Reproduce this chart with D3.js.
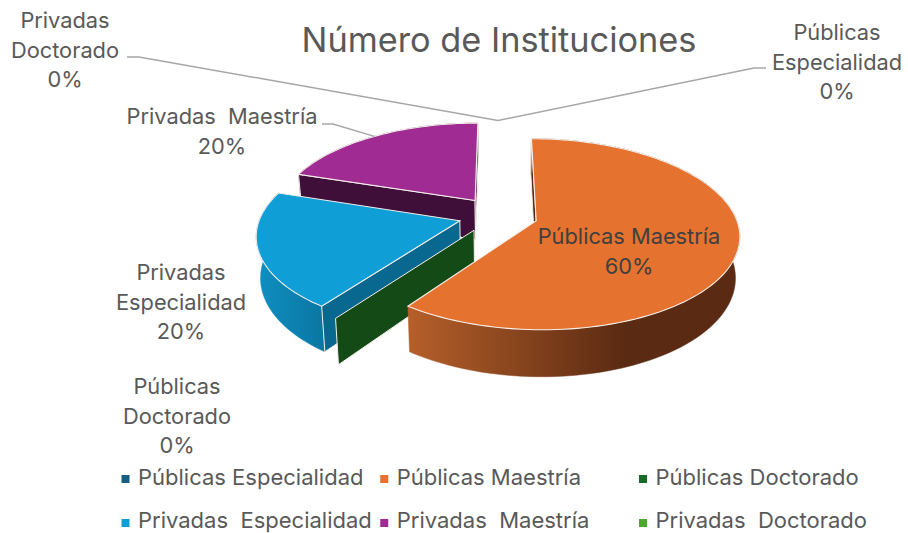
<!DOCTYPE html>
<html><head><meta charset="utf-8">
<script src="https://cdn.jsdelivr.net/npm/d3@7"></script>
<style>html,body{margin:0;background:#fff}svg{display:block}text{font-family:Inter,"Noto Sans",sans-serif}</style>
</head><body><div id="c"></div>
<script>
const title = "Número de Instituciones";
const categories = ["Públicas Especialidad","Públicas Maestría","Públicas Doctorado","Privadas  Especialidad","Privadas  Maestría","Privadas  Doctorado"];
const values = [0,60,0,20,20,0];
const colors = ["#156082","#e6722f","#196b24","#0f9ed5","#a02b93","#4ea72e"];
const edgeColors = ["#0d4a66","#5a2a12","#134a16","#08688f","#3f0f3a","#2f6a1c"];
const sideStart = ["#0d4a66","#b65f2a","#134a16","#0f8fc2","#3f0f3a","#2f6a1c"];
const sideEnd = ["#0d4a66","#5a2a12","#134a16","#0a76a2","#3f0f3a","#2f6a1c"];
const labelLines = [["Públicas","Especialidad"],["Públicas Maestría"],["Públicas","Doctorado"],["Privadas","Especialidad"],["Privadas  Maestría"],["Privadas","Doctorado"]];

const W=908,H=533;
const svg=d3.select("#c").append("svg").attr("width",W).attr("height",H);
const defs=svg.append("defs");

const P={cx:498,cy:215,rx:199,ry:92,k:0.14,depth:40,shrink:0.982,explode:0.2};
const project=(X,Y)=>{const w=1+P.k*Y;return [P.cx+P.rx*X/w,P.cy-P.ry*Y/w,w];};
const bottom=(X,Y)=>{const [x,y,w]=project(X,Y);return [P.cx+(x-P.cx)*P.shrink,y+P.depth/w];};

const pie=d3.pie().sort(null).value(d=>d.v).startAngle(0).endAngle(2*Math.PI);
const arcs=pie(categories.map((c,i)=>({c,v:values[i],i})));
const total=d3.sum(values);
const line=d3.line().x(d=>d[0]).y(d=>d[1]);
const STROKE="#f4efea";

function geom(a){
  const mid=(a.startAngle+a.endAngle)/2;
  const ox=P.explode*Math.sin(mid),oy=P.explode*Math.cos(mid);
  const n=Math.max(1,Math.ceil((a.endAngle-a.startAngle)/0.03));
  const ang=d3.range(n+1).map(j=>a.startAngle+(a.endAngle-a.startAngle)*j/n);
  return {ox,oy,ang,mid};
}
const rimPoint=a=>{const {ox,oy,mid}=geom(a);return project(ox+Math.sin(mid),oy+Math.cos(mid));};
function wallVisible(a,t){
  const {ox,oy,mid}=geom(a);
  const X=ox+Math.sin(t),Y=oy+Math.cos(t);
  const ap=project(ox,oy),r=project(X,Y),b=bottom(X,Y);
  if(a.value===0) return Math.abs(Math.sin(t))>1e-6;
  const m=project(ox+Math.sin(mid),oy+Math.cos(mid));
  const e=[r[0]-ap[0],r[1]-ap[1]];
  const c=(v)=>e[0]*v[1]-e[1]*v[0];
  return c([m[0]-ap[0],m[1]-ap[1]])*c([b[0]-r[0],b[1]-r[1]])<0;
}
function drawSlice(a){
  const i=a.data.i,{ox,oy,ang}=geom(a);
  const g=svg.append("g");
  const rimW=ang.map(t=>[ox+Math.sin(t),oy+Math.cos(t)]);
  const ap=project(ox,oy),apB=bottom(ox,oy);
  const top=rimW.map(p=>project(p[0],p[1])),bot=rimW.map(p=>bottom(p[0],p[1]));
  if(a.value>0){
    const xs=top.concat(bot).map(p=>p[0]);
    const id="grad"+i;
    const gr=defs.append("linearGradient").attr("id",id).attr("gradientUnits","userSpaceOnUse")
      .attr("x1",i===1?408:d3.min(xs)).attr("x2",i===1?625:d3.max(xs)).attr("y1",0).attr("y2",0);
    gr.append("stop").attr("offset",0).attr("stop-color",sideStart[i]);
    gr.append("stop").attr("offset",1).attr("stop-color",sideEnd[i]);
    g.append("path").attr("d",line(top.concat(bot.slice().reverse()))+"Z").attr("fill",`url(#${id})`)
      .attr("stroke",`url(#${id})`).attr("stroke-width",0.5);
  }
  [a.startAngle,a.endAngle].forEach((t,j)=>{
    if(a.value===0 && j===1) return;
    if(!wallVisible(a,t)) return;
    const X=ox+Math.sin(t),Y=oy+Math.cos(t);
    g.append("path").attr("d",line([ap,project(X,Y),bottom(X,Y),apB])+"Z")
      .attr("fill",edgeColors[i]).attr("stroke",STROKE).attr("stroke-width",1);
  });
  if(a.value>0){
    g.append("path").attr("d",line([ap].concat(top))+"Z").attr("fill",colors[i])
      .attr("stroke",STROKE).attr("stroke-width",1.1);
  }
}
[4,3,2,1].forEach(i=>drawSlice(arcs[i]));

// title
svg.append("text").attr("x",499).attr("y",52).attr("text-anchor","middle")
  .attr("font-size",34.3).attr("fill","#595959").text(title);

// leader lines
const lead=d3.line();
const zeroTop=rimPoint(arcs[0]);
svg.append("path").attr("d",lead([[127,57],[139,57],zeroTop.slice(0,2),[754,68],[766,68]]))
  .attr("fill","none").attr("stroke","#a6a6a6").attr("stroke-width",1.4);
svg.append("path").attr("d",lead([[322,124],[333,124],rimPoint(arcs[4]).slice(0,2)]))
  .attr("fill","none").attr("stroke","#a6a6a6").attr("stroke-width",1.4);

// data labels
const labelPos=[[837,40],[629,244],[177,394],[181,280],[222,124],[65,28]];
arcs.forEach(a=>{
  const i=a.data.i,[x,y]=labelPos[i];
  const lines=labelLines[i].concat([d3.format(".0%")(a.value/total)]);
  const t=svg.append("text").attr("text-anchor","middle").attr("font-size",21.8)
    .attr("fill",i===1?"#404040":"#595959").style("white-space","pre");
  lines.forEach((s,j)=>t.append("tspan").attr("x",x).attr("y",y+j*29.5).text(s));
});

// legend
const legX=d3.scalePoint().domain([0,1,2]).range([121.5,639]);
const legY=d3.scalePoint().domain([0,1]).range([485,528]);
categories.forEach((c,i)=>{
  const col=i%3,row=Math.floor(i/3),x=legX(col),y=legY(row);
  svg.append("rect").attr("x",x).attr("y",y-10+row).attr("width",8).attr("height",8).attr("fill",colors[i]==="#e6722f"?"#e97132":colors[i]);
  svg.append("text").attr("x",x+16.5).attr("y",y).attr("font-size",22).attr("fill","#595959")
    .style("white-space","pre").text(c);
});
</script>
</body></html>
